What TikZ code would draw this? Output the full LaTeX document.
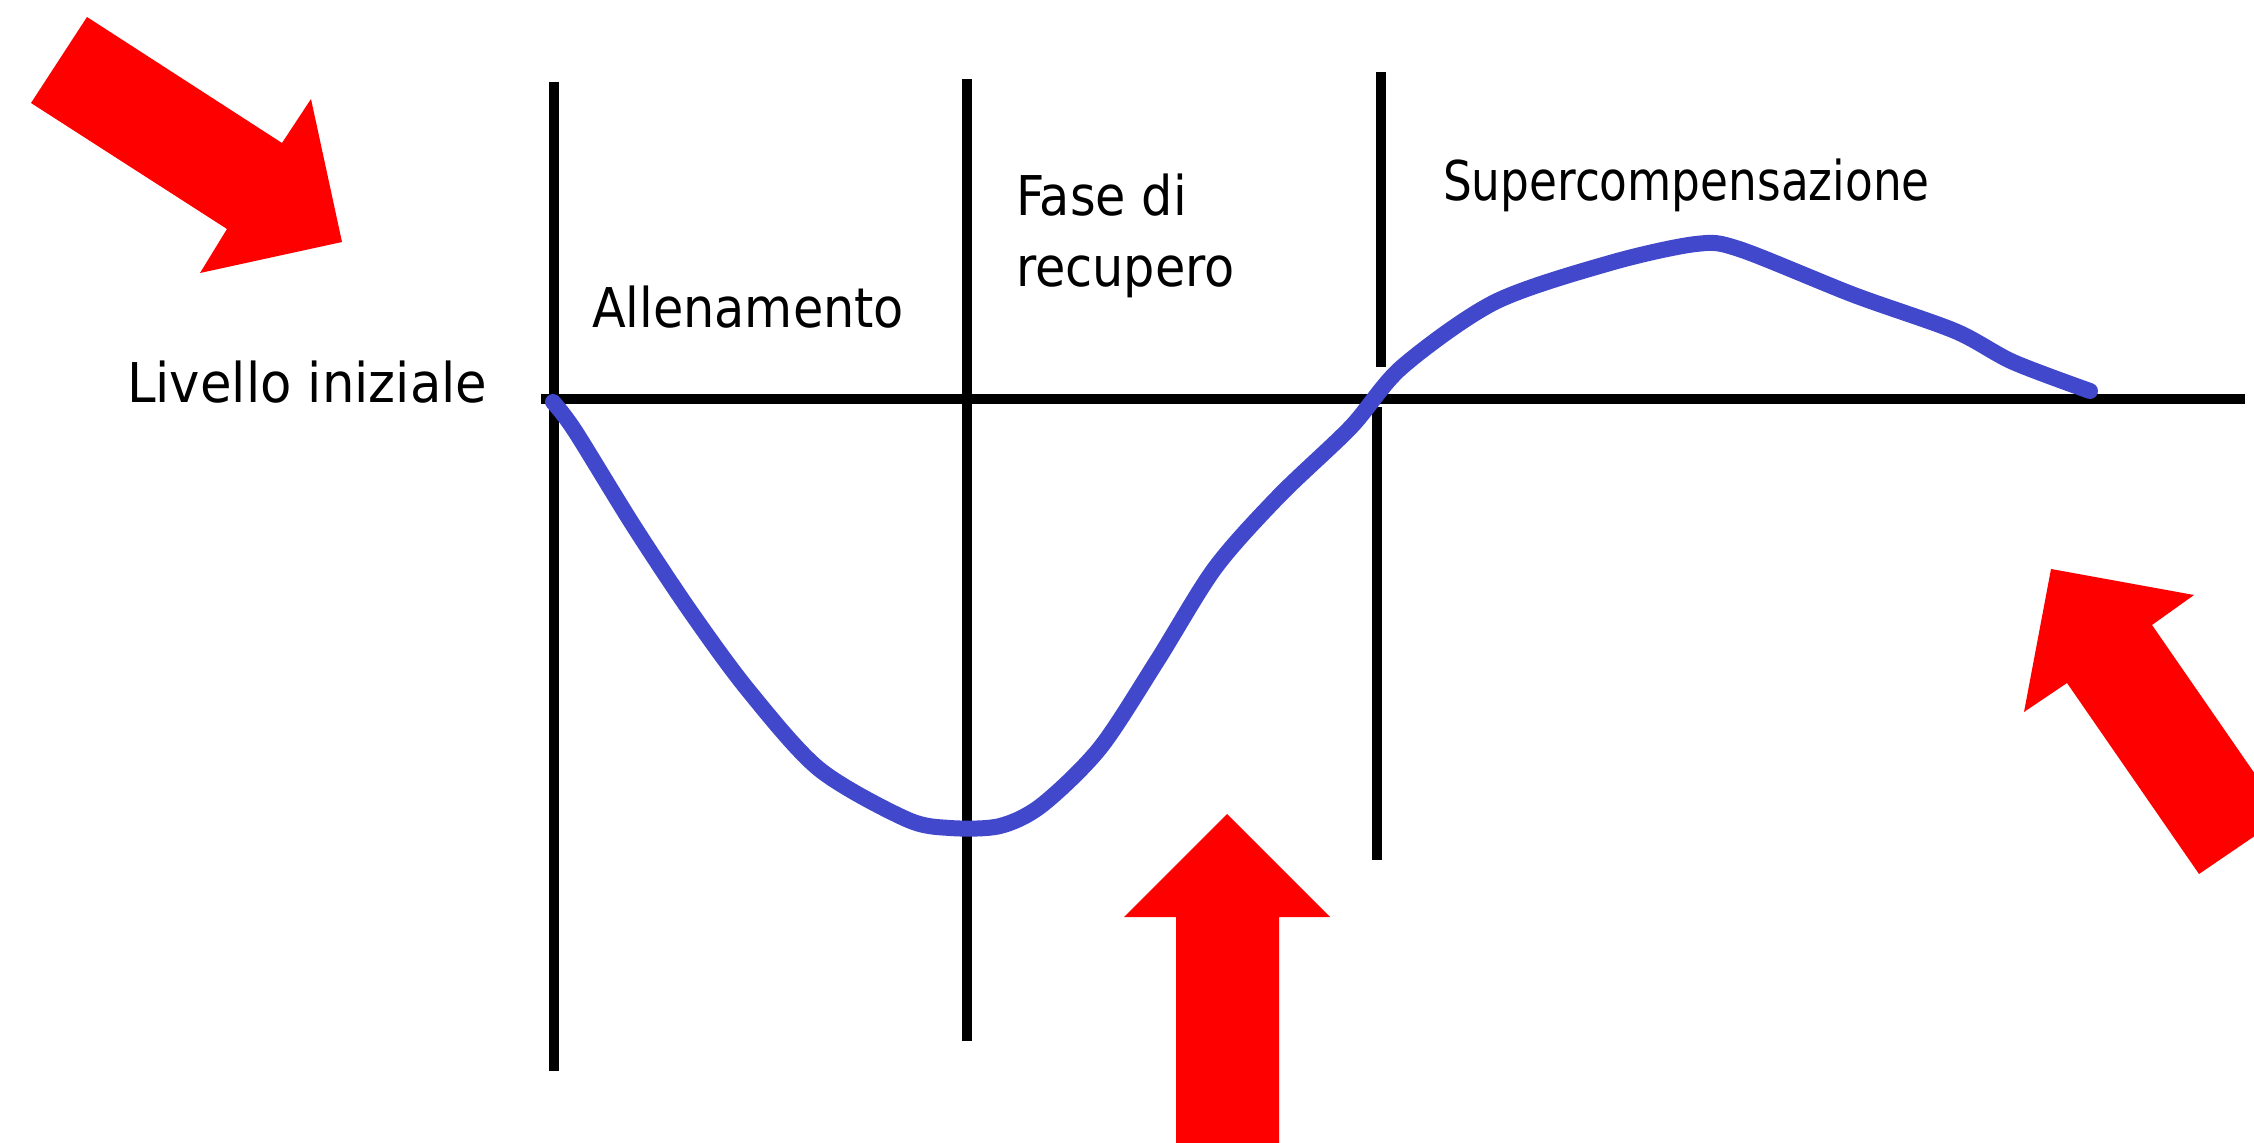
\documentclass[tikz,border=0pt]{standalone}
\usepackage{fontspec}
\newfontfamily\labelfont[FakeStretch=0.9]{DejaVu Sans}
\definecolor{curveblue}{RGB}{65,72,204}
\definecolor{arrowred}{RGB}{255,0,0}
\tikzset{
  axisline/.style={line width=4.6pt, black},
  curveline/.style={line width=8pt, curveblue, line cap=round, line join=round},
  bigarrow/.style={fill=arrowred, draw=none},
  lbl/.style={anchor=base west, inner sep=0pt, outer sep=0pt, font=\labelfont\fontsize{27.4pt}{35.5pt}\selectfont}
}
\begin{document}
\begin{tikzpicture}[x=0.5pt,y=-0.5pt]
\useasboundingbox (0,0) rectangle (2254,1143);
\fill[white] (0,0) rectangle (2254,1143);
% axis end points
\coordinate (v1t) at (554,82);   \coordinate (v1b) at (554,1071);
\coordinate (v2t) at (967,79);   \coordinate (v2b) at (967,1041);
\coordinate (v3t) at (1381,72);  \coordinate (v3m) at (1381,367);
\coordinate (v3n) at (1377,407); \coordinate (v3b) at (1377,860);
\coordinate (hl) at (541,399);   \coordinate (hr) at (2245,399);
\draw[axisline] (v1t) -- (v1b);
\draw[axisline] (v2t) -- (v2b);
\draw[axisline] (v3t) -- (v3m);
\draw[axisline] (v3n) -- (v3b);
\draw[axisline] (hl) -- (hr);
% blue curve
\draw[curveline] plot[smooth, tension=0.5] coordinates {
(553,402) (575,431) (633,525) (690,611) (748,690) (819,769)
(906,819) (950,828) (1000,826) (1042,805) (1100,748) (1157,661)
(1215,568) (1279,496) (1351,427) (1402,367) (1495,302) (1610,263)
(1696,244) (1739,249) (1854,295) (1955,331) (2013,362) (2090,391)};
% labels
\node[lbl] (livello) at (127,403) {\scalebox{1.04}[1]{Livello iniziale}};
\node[lbl] (allen) at (592,328) {Allenamento};
\node[lbl] (fase) at (1016,216) {Fase di};
\node[lbl] (recup) at (1016,287) {recupero};
\node[lbl] (super) at (1443,201) {\scalebox{0.92}[1]{Supercompensazione}};
% red arrows
\begin{scope}
\clip (0,0) rectangle (2254,1143);
\fill[bigarrow] (87,17) -- (282,143) -- (311,99) -- (342,242) -- (200,273) -- (227,229) -- (31,103) -- cycle;
\fill[bigarrow] (1227,814) -- (1330,917) -- (1279,917) -- (1279,1170) -- (1176,1170) -- (1176,917) -- (1124,917) -- cycle;
\fill[bigarrow] (2051,569) -- (2194,595) -- (2152,625) -- (2284,816) -- (2199,874) -- (2067,683) -- (2024,712) -- cycle;
\end{scope}
\end{tikzpicture}
\end{document}
